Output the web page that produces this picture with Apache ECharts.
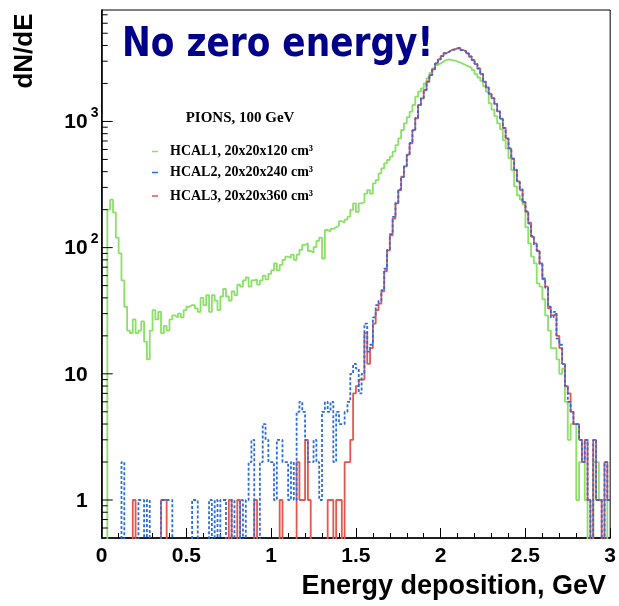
<!DOCTYPE html>
<html>
<head>
<meta charset="utf-8">
<script src="https://cdn.jsdelivr.net/npm/echarts@6/dist/echarts.min.js"></script>
<style>
  html, body { margin: 0; padding: 0; background: #fff; }
  #chart { width: 619px; height: 606px; }
</style>
</head>
<body>
<div id="chart"></div>
<script>
// Energy deposition spectra, 180 bins of 1/60 GeV from 0 to 3 GeV (counts per bin)
const BIN_WIDTH = 1 / 60;

const hcal1 = [
  0, 0, 200, 240, 190, 120, 90, 55, 34, 22,
  21, 27, 21, 22, 26, 18, 13, 22, 32, 27,
  31, 21, 24, 22, 27, 29, 28, 30, 28, 32,
  34, 35, 35, 33, 31, 40, 35, 42, 31, 42,
  38, 32, 41, 47, 41, 38, 45, 42, 51, 49,
  55, 58, 49, 55, 56, 51, 55, 60, 56, 62,
  66, 75, 66, 73, 80, 85, 83, 88, 80, 88,
  96, 105, 108, 94, 91, 101, 113, 120, 82, 138,
  134, 141, 145, 149, 162, 158, 167, 176, 199, 224,
  192, 224, 230, 268, 286, 268, 323, 343, 387, 424,
  466, 495, 526, 576, 650, 735, 855, 966, 1080, 1195,
  1350, 1571, 1720, 1830, 2004, 2200, 2430, 2630, 2800, 2885,
  2975, 3067, 3100, 3067, 3040, 2975, 2930, 2860, 2790, 2720,
  2660, 2554, 2370, 2230, 2100, 1900, 1720, 1391, 1240, 1100,
  966, 866, 712, 610, 510, 412, 305, 260, 240, 220,
  145, 108, 85, 75, 52, 49, 39, 29, 22, 16,
  16, 13, 10, 11, 6, 3, 4, 4, 1, 2,
  2, 1, 0, 0, 2, 2, 1, 1, 1, 0
];

const hcal2 = [
  0, 0, 0, 0, 0, 0, 0, 2, 0, 0,
  0, 0, 0, 1, 1, 0, 1, 0, 0, 0,
  0, 1, 1, 1, 1, 0, 0, 0, 0, 0,
  0, 0, 1, 1, 0, 0, 0, 0, 1, 0,
  1, 0, 1, 1, 0, 0, 1, 0, 0, 1,
  0, 1, 2, 3, 0, 0, 2, 4, 3, 2,
  2, 1, 3, 3, 2, 2, 1, 2, 1, 5,
  6, 5, 3, 2, 2, 3, 2, 1, 5, 6,
  5, 6, 2, 5, 4, 4, 5, 6, 10, 12,
  11, 7, 10, 25, 15, 17, 28, 35, 38, 46,
  68, 96, 128, 175, 228, 290, 362, 445, 540, 675,
  850, 1065, 1345, 1530, 1770, 2070, 2325, 2595, 2880, 3105,
  3295, 3470, 3565, 3690, 3715, 3800, 3830, 3675, 3610, 3455,
  3270, 3060, 2860, 2620, 2380, 2060, 1865, 1655, 1530, 1375,
  1205, 1045, 890, 730, 615, 505, 415, 330, 290, 228,
  195, 155, 124, 106, 95, 74, 57, 48, 34, 28,
  31, 19, 17, 12, 8, 6, 5, 4, 4, 3,
  2, 3, 1, 0, 3, 1, 1, 0, 2, 1
];

const hcal3 = [
  0, 0, 0, 0, 0, 0, 0, 0, 0, 0,
  0, 1, 0, 0, 0, 0, 0, 0, 0, 0,
  0, 1, 1, 0, 0, 0, 0, 0, 0, 0,
  0, 0, 0, 0, 0, 0, 0, 0, 0, 0,
  0, 0, 0, 0, 0, 1, 0, 0, 1, 0,
  0, 0, 0, 0, 1, 0, 0, 0, 0, 0,
  0, 0, 0, 1, 0, 0, 0, 0, 0, 2,
  1, 1, 3, 1, 0, 0, 0, 0, 0, 0,
  1, 1, 0, 1, 1, 0, 2, 2, 3, 7,
  8, 9, 9, 21, 12, 16, 25, 32, 36, 45,
  65, 95, 125, 170, 224, 286, 365, 440, 545, 670,
  855, 1060, 1350, 1525, 1774, 2065, 2330, 2590, 2885, 3100,
  3300, 3465, 3570, 3683, 3720, 3790, 3820, 3683, 3600, 3465,
  3260, 3067, 2850, 2630, 2370, 2065, 1860, 1660, 1525, 1380,
  1200, 1050, 885, 735, 610, 510, 412, 335, 286, 230,
  192, 158, 122, 108, 94, 75, 56, 49, 33, 29,
  30, 20, 16, 12, 8, 7, 5, 4, 4, 3,
  2, 3, 1, 0, 3, 1, 1, 0, 2, 1
];

const seriesNames = ['HCAL1, 20x20x120 cm³', 'HCAL2, 20x20x240 cm³', 'HCAL3, 20x20x360 cm³'];
const seriesColors = ['#8be066', '#2a6de0', '#e5574e'];

// Log-axis ticks and their labels
const yMajorTicks = [1, 10, 100, 1000];
const yLabelBase = ['1', '10', '10', '10'];
const yLabelExp = ['', '', '2', '3'];
const yMinorTicks = [
  0.6, 0.7, 0.8, 0.9,
  2, 3, 4, 5, 6, 7, 8, 9,
  20, 30, 40, 50, 60, 70, 80, 90,
  200, 300, 400, 500, 600, 700, 800, 900,
  2000, 3000, 4000, 5000, 6000, 7000
];

const Y_MIN = 0.5;
const Y_MAX = 7640;
const EMPTY_BIN = 0.05;   // empty bins sit below the axis floor and get clipped

// Histogram outline: one point per bin left edge, plus the closing right edge
function toSteps(values) {
  const pts = values.map((v, i) => [i * BIN_WIDTH, v > 0 ? v : EMPTY_BIN]);
  pts.push([values.length * BIN_WIDTH, pts[pts.length - 1][1]]);
  return pts;
}

const tickData = yMajorTicks.map((v, i) => [0, v, 1, i])
  .concat(yMinorTicks.map(v => [0, v, 0, -1]));

const AXIS_FONT = '"Liberation Sans", Arial, sans-serif';
const LEGEND_FONT = '"Liberation Serif", "Times New Roman", serif';

function renderYTick(params, api) {
  const v = api.value(1);
  const major = api.value(2);
  const idx = api.value(3);
  const p = api.coord([0, v]);
  const children = [{
    type: 'line',
    shape: { x1: p[0], y1: p[1], x2: p[0] + (major ? 11 : 6), y2: p[1] },
    style: { stroke: '#000', lineWidth: 1 }
  }];
  if (major) {
    children.push({
      type: 'text',
      style: {
        text: yLabelBase[idx], x: p[0] - 14, y: p[1] + 1,
        align: 'right', verticalAlign: 'middle',
        fontSize: 21, fontWeight: 'bold', fontFamily: AXIS_FONT, fill: '#000'
      }
    });
    if (yLabelExp[idx]) {
      children.push({
        type: 'text',
        style: {
          text: yLabelExp[idx], x: p[0] - 11, y: p[1] - 8,
          align: 'left', verticalAlign: 'middle',
          fontSize: 14, fontWeight: 'bold', fontFamily: AXIS_FONT, fill: '#000'
        }
      });
    }
  }
  return { type: 'group', children: children };
}

const chart = echarts.init(document.getElementById('chart'), null, { renderer: 'canvas' });

const legendRows = [151.5, 172.5, 196];
const legendGraphics = [{
  type: 'text', x: 240, y: 118,
  style: {
    text: 'PIONS, 100 GeV', align: 'center', verticalAlign: 'middle',
    fontSize: 15, fontWeight: 'bold', fontFamily: LEGEND_FONT, fill: '#000'
  }
}];
seriesNames.forEach((name, i) => {
  legendGraphics.push({
    type: 'line',
    shape: { x1: 152, y1: legendRows[i], x2: 158, y2: legendRows[i] },
    style: { stroke: seriesColors[i], lineWidth: 1.5 }
  });
  legendGraphics.push({
    type: 'text', x: 170, y: legendRows[i],
    style: {
      text: name, align: 'left', verticalAlign: 'middle',
      fontSize: 14, fontWeight: 'bold', fontFamily: LEGEND_FONT, fill: '#000'
    }
  });
});

chart.setOption({
  animation: false,
  backgroundColor: '#fff',
  grid: {
    left: 101.7, top: 10, width: 510, height: 528,
    show: true, borderColor: '#000', borderWidth: 1, backgroundColor: 'transparent'
  },
  xAxis: {
    type: 'value', min: 0, max: 3, interval: 0.5,
    axisLine: { show: true, onZero: false, lineStyle: { color: '#000', width: 1.5 } },
    axisTick: { show: true, inside: true, length: 10, lineStyle: { color: '#000' } },
    minorTick: { show: true, splitNumber: 5, length: 5, lineStyle: { color: '#000' } },
    splitLine: { show: false },
    axisLabel: {
      margin: 8, color: '#000', fontSize: 21, fontWeight: 'bold', fontFamily: AXIS_FONT,
      showMinLabel: true, showMaxLabel: true,
      formatter: v => String(v)
    }
  },
  yAxis: {
    type: 'log', logBase: 10, min: Y_MIN, max: Y_MAX,
    axisLine: { show: true, lineStyle: { color: '#000', width: 1.5 } },
    axisTick: { show: false },
    axisLabel: { show: false },
    splitLine: { show: false }
  },
  graphic: [
    {
      type: 'text', x: 122, y: 46, scaleX: 0.86, scaleY: 1,
      style: {
        text: 'No zero energy!', align: 'left', verticalAlign: 'middle',
        fontSize: 40, fontWeight: 'bold', fontFamily: '"DejaVu Sans", Verdana, sans-serif', fill: '#00008b'
      }
    },
    {
      type: 'text', x: 25, y: 51, rotation: Math.PI / 2,
      style: {
        text: 'dN/dE', align: 'center', verticalAlign: 'middle',
        fontSize: 26, fontWeight: 'bold', fontFamily: AXIS_FONT, fill: '#000'
      }
    },
    {
      type: 'text', x: 606, y: 587,
      style: {
        text: 'Energy deposition, GeV', align: 'right', verticalAlign: 'middle',
        fontSize: 27, fontWeight: 'bold', fontFamily: AXIS_FONT, fill: '#000'
      }
    }
  ].concat(legendGraphics),
  series: [
    {
      name: seriesNames[0], type: 'line', step: 'end', data: toSteps(hcal1),
      showSymbol: false, clip: true, z: 3,
      lineStyle: { color: seriesColors[0], width: 1.8 }
    },
    {
      name: seriesNames[2], type: 'line', step: 'end', data: toSteps(hcal3),
      showSymbol: false, clip: true, z: 4,
      lineStyle: { color: seriesColors[2], width: 1.8 }
    },
    {
      name: seriesNames[1], type: 'line', step: 'end', data: toSteps(hcal2),
      showSymbol: false, clip: true, z: 5,
      lineStyle: { color: seriesColors[1], width: 1.8, type: [3, 2] }
    },
    {
      type: 'custom', coordinateSystem: 'cartesian2d', data: tickData,
      renderItem: renderYTick, silent: true, clip: false, z: 6
    }
  ]
});
</script>
</body>
</html>
